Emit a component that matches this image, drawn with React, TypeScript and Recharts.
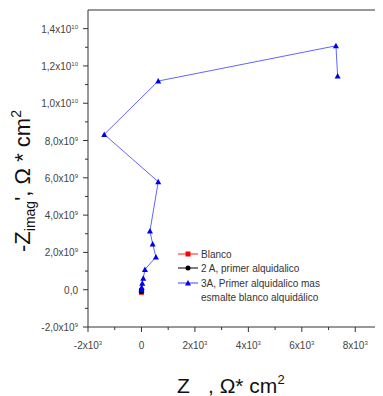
import React from "react";
import { ScatterChart, Scatter, XAxis, YAxis, ReferenceLine, Legend } from "recharts";

// ---- data ----
const blancoX = [0, 4];
const blancoY = [-1.4e8, -0.6e8];
const primerX = [0, 3];
const primerY = [-0.9e8, -0.3e8];
const esmalteX = [0, 7, 30, 67, 131, 542, 419, 318, 628, -1392, 628, 7277, 7340];
const esmalteY = [0, 1.3e8, 3.4e8, 6.1e8, 1.09e9, 1.75e9, 2.45e9, 3.15e9, 5.79e9, 8.33e9, 1.119e10, 1.308e10, 1.146e10];

const seriesNames = ["Blanco", "2 A, primer alquidalico", "3A, Primer alquidalico mas", "esmalte blanco alquidálico"];

const xMajorTicks = [-2000, 0, 2000, 4000, 6000, 8000];
const xTickLabels: [string, string][] = [["-2x10", "3"], ["0", ""], ["2x10", "3"], ["4x10", "3"], ["6x10", "3"], ["8x10", "3"]];
const xMinorTicks = [-1000, 1000, 3000, 5000, 7000];
const yMajorTicks = [-2e9, 0, 2e9, 4e9, 6e9, 8e9, 1e10, 1.2e10, 1.4e10];
const yTickLabels: [string, string][] = [
  ["-2,0x10", "9"], ["0,0", ""], ["2,0x10", "9"], ["4,0x10", "9"], ["6,0x10", "9"],
  ["8,0x10", "9"], ["1,0x10", "10"], ["1,2x10", "10"], ["1,4x10", "10"],
];
const yMinorTicks = [-1e9, 1e9, 3e9, 5e9, 7e9, 9e9, 1.1e10, 1.3e10];

const xDomain = [-2000, 9000];
const yDomain = [-2e9, 1.5e10];

const toPts = (xs: number[], ys: number[]) => xs.map((x, i) => ({ x, y: ys[i] }));
const blancoData = toPts(blancoX, blancoY);
const primerData = toPts(primerX, primerY);
const esmalteData = toPts(esmalteX, esmalteY);

const AXIS = "#333";
const TICKFILL = "#444";
const FONT = "'Liberation Sans', Arial, sans-serif";

const XTick = (props: any) => {
  const { x, y, payload } = props;
  const idx = xMajorTicks.indexOf(payload.value);
  const major = idx >= 0;
  return (
    <g>
      <line x1={x} x2={x} y1={y} y2={y + (major ? 5 : 3)} stroke={AXIS} strokeWidth={1} />
      {major && (
        <text x={x} y={y + 22} textAnchor="middle" fontSize={10} fill={TICKFILL} fontFamily={FONT}>
          <tspan>{xTickLabels[idx][0]}</tspan>
          {xTickLabels[idx][1] && <tspan dy={-4} fontSize={6}>{xTickLabels[idx][1]}</tspan>}
        </text>
      )}
    </g>
  );
};

const YTick = (props: any) => {
  const { x, y, payload } = props;
  const idx = yMajorTicks.indexOf(payload.value);
  const major = idx >= 0;
  return (
    <g>
      <line x1={x - (major ? 5 : 3)} x2={x} y1={y} y2={y} stroke={AXIS} strokeWidth={1} />
      {major && (
        <text x={x - 10} y={y + 4} textAnchor="end" fontSize={10} fill={TICKFILL} fontFamily={FONT}>
          <tspan>{yTickLabels[idx][0]}</tspan>
          {yTickLabels[idx][1] && <tspan dy={-4} fontSize={6}>{yTickLabels[idx][1]}</tspan>}
        </text>
      )}
    </g>
  );
};

const Square = (props: any) => {
  const { cx, cy } = props;
  return <rect x={cx - 2.5} y={cy - 2.5} width={5} height={5} fill="#ff0000" />;
};
const Dot = (props: any) => {
  const { cx, cy } = props;
  return <circle cx={cx} cy={cy} r={2.5} fill="#000" />;
};
const Tri = (props: any) => {
  const { cx, cy } = props;
  return <polygon points={`${cx},${cy - 3} ${cx - 3},${cy + 2.5} ${cx + 3},${cy + 2.5}`} fill="#0000ee" />;
};

const LegendContent = () => {
  const rows = [
    { c: "#ff2020", m: "sq", t: seriesNames[0], y: 6 },
    { c: "#000", m: "ci", t: seriesNames[1], y: 20 },
    { c: "#4040ff", m: "tr", t: seriesNames[2], y: 35 },
  ];
  return (
    <svg width={200} height={60} style={{ overflow: "visible", display: "block" }}>
      {rows.map((r, i) => (
        <g key={i}>
          <line x1={0} x2={20} y1={r.y} y2={r.y} stroke={r.c} strokeWidth={1} />
          {r.m === "sq" && <rect x={7.5} y={r.y - 2.5} width={5} height={5} fill="#ff0000" />}
          {r.m === "ci" && <circle cx={10} cy={r.y} r={2.5} fill="#000" />}
          {r.m === "tr" && <polygon points={`10,${r.y - 3} 7,${r.y + 2.5} 13,${r.y + 2.5}`} fill="#0000ee" />}
          <text x={23} y={r.y + 4} fontSize={10} fill="#333" fontFamily={FONT}>{r.t}</text>
        </g>
      ))}
      <text x={23} y={49 + 4} fontSize={10} fill="#333" fontFamily={FONT}>{seriesNames[3]}</text>
    </svg>
  );
};

export default function App() {
  const W = 375;
  const H = 388;
  return (
    <div style={{ position: "relative", width: W, height: H }}>
      <ScatterChart width={W} height={H} margin={{ top: 2, right: 1, bottom: 0, left: 0 }}>
        <XAxis
          type="number"
          dataKey="x"
          domain={xDomain}
          ticks={[...xMajorTicks, ...xMinorTicks].sort((a, b) => a - b)}
          interval={0}
          allowDataOverflow
          height={69}
          tickSize={0}
          tickMargin={0}
          tickLine={false}
          axisLine={{ stroke: AXIS, strokeWidth: 1 }}
          tick={XTick}
        />
        <YAxis
          type="number"
          dataKey="y"
          domain={yDomain}
          ticks={[...yMajorTicks, ...yMinorTicks].sort((a, b) => a - b)}
          interval={0}
          allowDataOverflow
          width={80}
          tickSize={0}
          tickMargin={0}
          tickLine={false}
          axisLine={{ stroke: AXIS, strokeWidth: 1 }}
          tick={YTick}
        />
        <ReferenceLine y={1.5e10} stroke={AXIS} strokeWidth={1} />
        <ReferenceLine x={9000} stroke={AXIS} strokeWidth={1} />
        <Legend
          layout="horizontal"
          verticalAlign="middle"
          align="center"
          content={<LegendContent />}
          wrapperStyle={{ position: "absolute", left: 170, top: 240, width: 200, height: 60 }}
        />
        <Scatter name={seriesNames[0]} data={blancoData} line={{ stroke: "#ff2020", strokeWidth: 1 }} shape={Square} isAnimationActive={false} />
        <Scatter name={seriesNames[1]} data={primerData} line={{ stroke: "#000", strokeWidth: 1 }} shape={Dot} isAnimationActive={false} />
        <Scatter name={seriesNames[2]} data={esmalteData} line={{ stroke: "#6464ff", strokeWidth: 1 }} shape={Tri} isAnimationActive={false} />
      </ScatterChart>
      <svg width={W} height={H} style={{ position: "absolute", left: 0, top: 0, pointerEvents: "none" }}>
        <text transform="translate(22,173) rotate(-90)" textAnchor="middle" fontSize={22} fill="#111" fontFamily={FONT}>
          <tspan>-Z</tspan>
          <tspan fontSize={14} dy={5}>imag</tspan>
          <tspan dy={-5}>', Ω * cm</tspan>
          <tspan fontSize={14} dy={-9}>2</tspan>
        </text>
        <text x={169} y={385} fontSize={21} fill="#111" fontFamily={FONT}>Z</text>
        <text x={200} y={385} fontSize={21} fill="#111" fontFamily={FONT}>
          <tspan>, Ω* cm</tspan>
          <tspan fontSize={13} dy={-9}>2</tspan>
        </text>
      </svg>
    </div>
  );
}
